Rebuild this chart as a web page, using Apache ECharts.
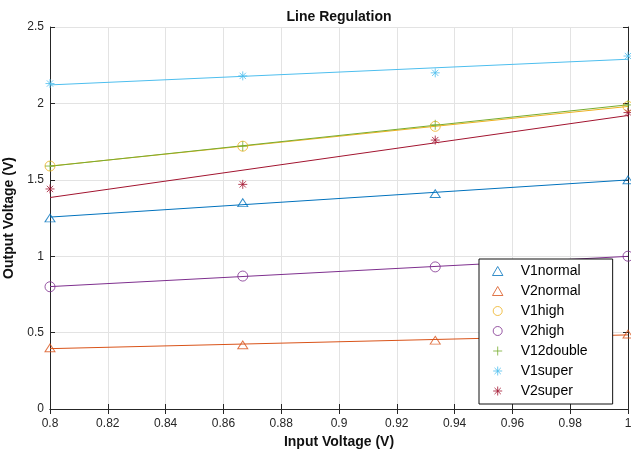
<!DOCTYPE html>
<html>
<head>
<meta charset="utf-8">
<script src="https://cdn.jsdelivr.net/npm/echarts@6/dist/echarts.min.js"></script>
<style>
  html, body { margin: 0; padding: 0; background: #fff; }
  #main { width: 631px; height: 449px; }
</style>
</head>
<body>
<div id="main"></div>
<script>
// input voltage points (x)
var xVals = [0.8, 0.8667, 0.9333, 1.0]
var xTicks = [0.8, 0.82, 0.84, 0.86, 0.88, 0.9, 0.92, 0.94, 0.96, 0.98, 1]
var yTicks = [0, 0.5, 1, 1.5, 2, 2.5]

var names = ['V1normal', 'V2normal', 'V1high', 'V2high', 'V12double', 'V1super', 'V2super']
var V1normal = [1.25, 1.35, 1.41, 1.50]
var V2normal = [0.40, 0.42, 0.45, 0.49]
var V1high = [1.59, 1.72, 1.85, 1.98]
var V2high = [0.80, 0.87, 0.93, 1.00]
var V12double = [1.59, 1.72, 1.86, 1.99]
var V1super = [2.13, 2.18, 2.20, 2.31]
var V2super = [1.44, 1.47, 1.76, 1.94]
var values = [V1normal, V2normal, V1high, V2high, V12double, V1super, V2super]

var colors = ['#0072BD', '#D95319', '#EDB120', '#7E2F8E', '#77AC30', '#4DBEEE', '#A2142F']

var TRI = 'path://M5,0L10,8.66L0,8.66Z'
var CIRC = 'path://M10,5A5,5,0,1,1,0,5A5,5,0,1,1,10,5Z'
var PLUS = 'path://M0,5L10,5M5,0L5,10'
var STAR = 'path://M0,5L10,5M5,0L5,10M1.5,1.5L8.5,8.5M8.5,1.5L1.5,8.5'
var marks = [TRI, TRI, CIRC, CIRC, PLUS, STAR, STAR]
var sizes = [[10, 9], [10, 9], [10, 10], [10, 10], [10, 10], [9, 9], [9, 9]]

// least squares line through the points, drawn from 0.8 to 1
function fitLine(ys) {
    var n = xVals.length, mx = 0, my = 0
    for (var i = 0; i < n; i++) { mx += xVals[i]; my += ys[i] }
    mx /= n; my /= n
    var sxy = 0, sxx = 0
    for (var j = 0; j < n; j++) {
        sxy += (xVals[j] - mx) * (ys[j] - my)
        sxx += (xVals[j] - mx) * (xVals[j] - mx)
    }
    var k = sxy / sxx
    return [[0.8, my + k * (0.8 - mx)], [1, my + k * (1 - mx)]]
}

var series = []
var legendData = []
names.forEach(function (nm, i) {
    var pts = xVals.map(function (x, j) { return [x, values[i][j]] })
    series.push({
        name: nm,
        type: 'scatter',
        data: pts,
        symbol: marks[i],
        symbolSize: sizes[i],
        symbolKeepAspect: true,
        itemStyle: { color: 'rgba(0,0,0,0)', borderColor: colors[i], borderWidth: 1 },
        emphasis: { disabled: true },
        z: 3
    })
    series.push({
        name: nm + ' fit',
        type: 'line',
        data: fitLine(values[i]),
        showSymbol: false,
        lineStyle: { color: colors[i], width: 1 },
        emphasis: { disabled: true },
        z: 2
    })
    legendData.push({
        name: nm,
        icon: marks[i],
        itemStyle: { color: 'rgba(0,0,0,0)', borderColor: colors[i], borderWidth: 1 }
    })
})

var axisCol = '#262626'
var chart = echarts.init(document.getElementById('main'))
var option = {
    animation: false,
    title: {
        text: 'Line Regulation',
        left: 339,
        top: 10,
        padding: 0,
        textAlign: 'center',
        textStyle: { fontFamily: 'Liberation Sans', fontSize: 14, fontWeight: 'bold', color: '#111' }
    },
    legend: {
        orient: 'vertical',
        left: 479,
        top: 259,
        padding: [5, 25, 6, 13],
        itemGap: 6,
        itemWidth: 36,
        itemHeight: 9,
        backgroundColor: '#fff',
        borderColor: '#111',
        borderWidth: 1,
        borderRadius: 0,
        data: legendData,
        textStyle: { fontFamily: 'Liberation Sans', fontSize: 14, color: '#000', lineHeight: 14 }
    },
    grid: { left: 50, right: 3, top: 27, bottom: 40, outerBoundsMode: 'none', containLabel: false },
    xAxis: [{
        type: 'value',
        min: 0.8,
        max: 1,
        interval: 0.02,
        name: 'Input Voltage (V)',
        nameLocation: 'middle',
        nameGap: 22,
        nameTextStyle: { fontFamily: 'Liberation Sans', fontSize: 14, fontWeight: 'bold', color: '#111' },
        axisLine: { lineStyle: { color: axisCol } },
        axisTick: { inside: true, length: 5, lineStyle: { color: axisCol } },
        axisLabel: {
            margin: 9, color: axisCol, fontFamily: 'Liberation Sans', fontSize: 12,
            formatter: function (v) { return String(+v.toFixed(2)) }
        },
        splitLine: { lineStyle: { color: '#e3e3e3' } }
    }, {
        type: 'value',
        position: 'top',
        min: 0.8,
        max: 1,
        interval: 0.02,
        axisLine: { show: true, lineStyle: { color: axisCol } },
        axisTick: { inside: true, length: 5, lineStyle: { color: axisCol } },
        axisLabel: { show: false },
        splitLine: { show: false }
    }],
    yAxis: [{
        type: 'value',
        min: 0,
        max: 2.5,
        interval: 0.5,
        name: 'Output Voltage (V)',
        nameLocation: 'middle',
        nameGap: 30,
        nameTextStyle: { fontFamily: 'Liberation Sans', fontSize: 14, fontWeight: 'bold', color: '#111' },
        axisLine: { show: true, lineStyle: { color: axisCol } },
        axisTick: { show: true, inside: true, length: 5, lineStyle: { color: axisCol } },
        axisLabel: { margin: 6, color: axisCol, fontFamily: 'Liberation Sans', fontSize: 12 },
        splitLine: { lineStyle: { color: '#e3e3e3' } }
    }, {
        type: 'value',
        position: 'right',
        min: 0,
        max: 2.5,
        interval: 0.5,
        axisLine: { show: true, lineStyle: { color: axisCol } },
        axisTick: { show: true, inside: true, length: 5, lineStyle: { color: axisCol } },
        axisLabel: { show: false },
        splitLine: { show: false }
    }],
    series: series
}
chart.setOption(option)
</script>
</body>
</html>
